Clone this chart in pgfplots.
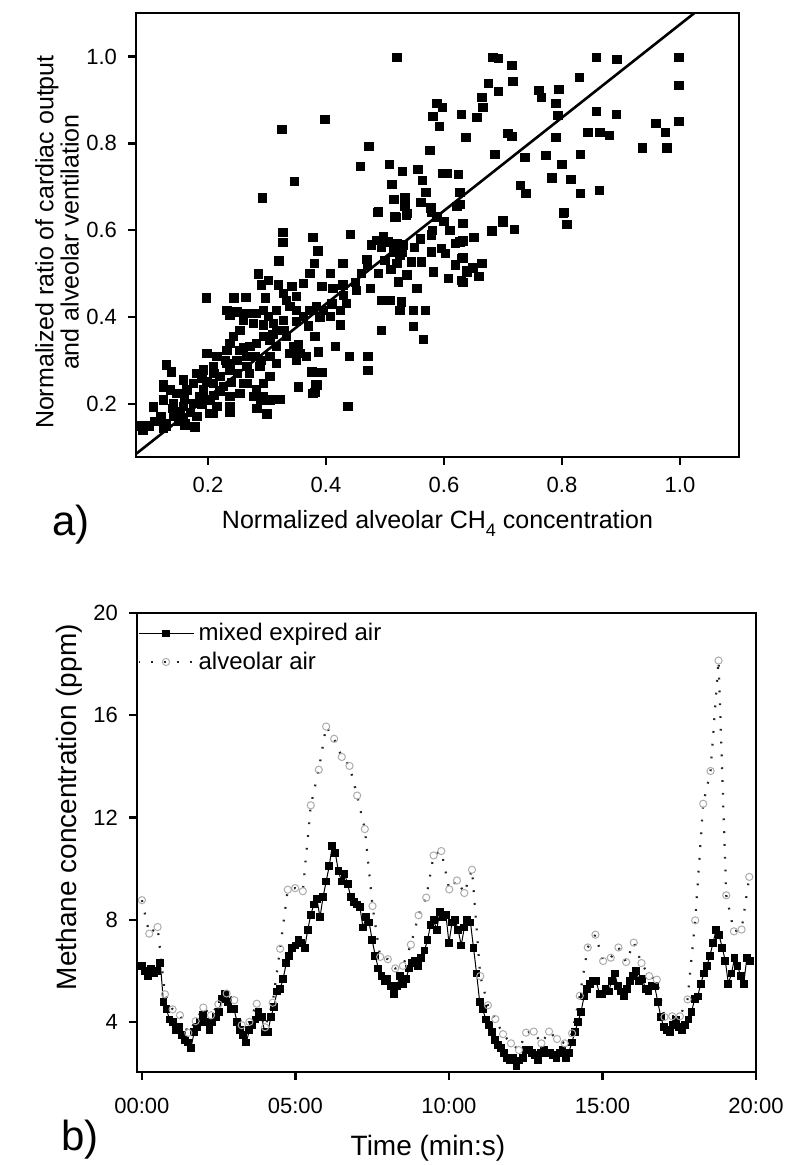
\documentclass[border=0pt]{standalone}
\usepackage{fontspec}
\setmainfont{Liberation Sans}
\usepackage{pgfplots}
\pgfplotsset{compat=1.18}
\begin{document}
\begin{tikzpicture}
\useasboundingbox (0,0) rectangle (400pt,582.5pt);
\pgfplotsset{
  panel/.style={
    scale only axis,
    axis line style={line width=1.2pt},
    tick align=outside,
    major tick length=4pt,
    tick style={line width=1.2pt,black},
    xtick pos=bottom, ytick pos=left,
    minor tick num=0,
    ticklabel style={font=\fontsize{11}{12}\selectfont},
    xticklabel style={yshift=-2.5pt},
    yticklabel style={xshift=-2pt},
  }
}
% ---------------- a) scatter ----------------
\begin{axis}[panel,
  at={(68pt,354pt)}, anchor=south west,
  width=301.5pt, height=222pt,
  xmin=0.078, xmax=1.1, ymin=0.078, ymax=1.1,
  xtick={0.2,0.4,0.6,0.8,1.0}, xticklabels={0.2,0.4,0.6,0.8,1.0},
  ytick={0.2,0.4,0.6,0.8,1.0}, yticklabels={0.2,0.4,0.6,0.8,1.0},
  xlabel={Normalized alveolar CH\raisebox{-0.55ex}{\fontsize{9}{9}\selectfont 4} concentration},
  ylabel={Normalized ratio of cardiac output\\and alveolar ventilation},
  every axis x label/.style={at={(axis description cs:0.5,-0.162)}, anchor=base,
    font=\fontsize{12.5}{14}\selectfont},
  every axis y label/.style={at={(axis description cs:-0.131,0.484)}, anchor=center,
    rotate=90, align=center, font=\fontsize{12.5}{10.5}\selectfont},
]
\addplot[only marks, mark=square*, mark size=2.1pt, black] coordinates {
(0.520,0.998)(0.398,0.855)(0.325,0.832)(0.346,0.713)(0.292,0.674)(0.473,0.793)
(0.458,0.747)(0.507,0.752)(0.530,0.736)(0.556,0.740)(0.563,0.715)(0.569,0.687)
(0.512,0.706)(0.515,0.671)(0.534,0.676)(0.534,0.655)(0.561,0.664)(0.488,0.641)
(0.519,0.630)(0.536,0.634)(0.578,0.651)(0.588,0.892)(0.597,0.883)(0.581,0.862)
(0.592,0.839)(0.629,0.867)(0.637,0.814)(0.576,0.784)(0.598,0.731)(0.605,0.731)
(0.624,0.729)(0.627,0.687)(0.622,0.655)(0.683,0.998)(0.692,0.995)(0.715,0.979)
(0.675,0.938)(0.692,0.920)(0.717,0.943)(0.664,0.906)(0.666,0.883)(0.656,0.860)
(0.761,0.922)(0.765,0.906)(0.795,0.924)(0.790,0.892)(0.793,0.864)(0.829,0.952)
(0.858,0.998)(0.893,0.993)(0.998,0.998)(0.998,0.933)(0.998,0.851)(0.858,0.874)
(0.892,0.867)(0.959,0.846)(0.975,0.825)(0.936,0.789)(0.978,0.789)(0.844,0.825)
(0.864,0.825)(0.880,0.818)(0.708,0.823)(0.715,0.816)(0.790,0.814)(0.686,0.775)
(0.737,0.768)(0.773,0.772)(0.831,0.775)(0.800,0.752)(0.783,0.720)(0.815,0.717)
(0.730,0.703)(0.739,0.685)(0.831,0.685)(0.863,0.692)(0.803,0.641)(0.627,0.660)
(0.700,0.623)(0.632,0.616)(0.700,0.618)(0.681,0.598)(0.719,0.602)(0.651,0.584)
(0.632,0.575)(0.802,0.639)(0.808,0.614)(0.632,0.536)(0.664,0.524)(0.649,0.513)
(0.639,0.503)(0.659,0.494)(0.632,0.480)
(0.327,0.595)(0.327,0.572)(0.378,0.584)(0.386,0.552)(0.320,0.529)(0.380,0.524)
(0.441,0.591)(0.429,0.524)(0.285,0.499)(0.197,0.444)(0.244,0.444)(0.264,0.446)
(0.297,0.444)(0.469,0.533)(0.486,0.577)(0.497,0.585)(0.506,0.573)(0.520,0.569)
(0.531,0.566)(0.477,0.566)(0.494,0.562)(0.514,0.550)(0.525,0.543)(0.520,0.523)
(0.545,0.527)(0.562,0.527)(0.579,0.550)(0.596,0.558)(0.610,0.600)(0.633,0.615)
(0.627,0.573)(0.630,0.535)(0.619,0.520)(0.638,0.508)(0.582,0.504)(0.607,0.489)
(0.630,0.485)(0.537,0.497)(0.554,0.466)(0.523,0.481)(0.489,0.500)(0.475,0.466)
(0.494,0.439)(0.508,0.439)(0.528,0.435)(0.525,0.416)(0.548,0.416)(0.568,0.416)
(0.548,0.378)(0.565,0.349)(0.494,0.370)(0.471,0.309)(0.471,0.277)(0.440,0.310)
(0.416,0.332)(0.387,0.320)(0.381,0.356)(0.353,0.336)(0.353,0.240)(0.383,0.244)
(0.381,0.226)(0.437,0.194)(0.376,0.274)(0.393,0.273)(0.321,0.211)(0.299,0.177)
(0.283,0.190)(0.407,0.500)(0.429,0.474)(0.452,0.462)(0.412,0.466)(0.393,0.470)
(0.373,0.500)(0.362,0.477)(0.342,0.470)(0.319,0.474)(0.302,0.485)(0.291,0.474)
(0.435,0.431)(0.424,0.416)(0.407,0.401)(0.424,0.382)(0.396,0.416)(0.384,0.424)
(0.373,0.416)(0.362,0.401)(0.350,0.416)(0.339,0.424)(0.328,0.454)(0.333,0.439)
(0.350,0.447)(0.316,0.416)(0.302,0.401)(0.294,0.416)(0.282,0.408)(0.266,0.408)
(0.249,0.412)(0.232,0.416)(0.237,0.405)(0.260,0.393)(0.277,0.385)(0.294,0.382)
(0.311,0.385)(0.328,0.393)(0.316,0.370)(0.333,0.355)(0.345,0.332)(0.356,0.317)
(0.367,0.309)(0.350,0.301)(0.339,0.317)(0.316,0.332)(0.305,0.347)(0.294,0.355)
(0.282,0.339)(0.271,0.332)(0.254,0.370)(0.243,0.355)(0.237,0.339)(0.232,0.324)
(0.254,0.324)(0.266,0.309)(0.249,0.301)(0.232,0.293)(0.215,0.309)(0.198,0.317)
(0.209,0.286)(0.192,0.278)(0.181,0.271)(0.220,0.263)(0.237,0.278)(0.266,0.286)
(0.288,0.286)(0.305,0.309)(0.316,0.293)(0.305,0.263)(0.294,0.248)(0.282,0.232)
(0.266,0.248)(0.254,0.225)(0.237,0.217)(0.226,0.240)(0.209,0.248)(0.192,0.232)
(0.175,0.248)(0.158,0.255)(0.164,0.232)(0.147,0.225)(0.136,0.232)(0.124,0.244)
(0.130,0.290)(0.138,0.274)(0.107,0.194)(0.124,0.209)(0.141,0.202)(0.158,0.194)
(0.175,0.202)(0.186,0.217)(0.203,0.209)(0.215,0.194)(0.203,0.179)(0.181,0.171)
(0.158,0.163)(0.141,0.171)(0.130,0.156)(0.124,0.144)(0.153,0.182)(0.178,0.148)
(0.161,0.152)(0.198,0.251)(0.090,0.148)(0.237,0.194)(0.260,0.248)(0.277,0.217)
(0.294,0.217)(0.305,0.209)
(0.489,0.642)(0.517,0.631)(0.537,0.638)(0.579,0.642)(0.588,0.631)(0.579,0.589)
(0.619,0.569)(0.602,0.546)
(0.085,0.150)(0.090,0.140)(0.124,0.239)(0.107,0.193)(0.127,0.152)(0.130,0.150)
(0.178,0.147)(0.161,0.156)(0.209,0.179)(0.237,0.182)(0.283,0.190)(0.300,0.177)
(0.322,0.211)(0.353,0.239)(0.385,0.244)(0.378,0.225)(0.437,0.195)(0.290,0.209)
(0.19,0.26)(0.21,0.27)(0.22,0.23)(0.24,0.25)(0.25,0.27)(0.27,0.27)(0.23,0.30)
(0.26,0.33)(0.28,0.31)(0.29,0.30)(0.31,0.36)(0.33,0.37)(0.35,0.39)(0.37,0.38)
(0.39,0.40)(0.41,0.43)(0.43,0.45)(0.45,0.48)(0.46,0.50)(0.47,0.52)(0.50,0.53)
(0.51,0.51)(0.53,0.55)(0.55,0.56)(0.56,0.58)(0.58,0.60)(0.60,0.62)(0.14,0.19)
(0.16,0.21)(0.17,0.18)(0.19,0.20)(0.21,0.22)(0.12,0.17)(0.15,0.16)(0.11,0.16)
(0.10,0.15)
};
% linear fit
\addplot[black, line width=1.3pt] coordinates {(0.0,0.0014) (1.1,1.181)};
\end{axis}
\node[font=\fontsize{21}{23}\selectfont] at (35.5pt,320pt) {a)};
% ---------------- b) time series ----------------
\begin{axis}[panel,
  at={(68.5pt,46.5pt)}, anchor=south west,
  width=309.5pt, height=229.5pt,
  xmin=-0.16, xmax=20, ymin=2.05, ymax=20,
  xtick={0,5,10,15,20}, xticklabels={00:00,05:00,10:00,15:00,20:00},
  ytick={4,8,12,16,20}, yticklabels={4,8,12,16,20},
  xticklabel style={yshift=-3pt},
  xlabel={Time (min:s)},
  ylabel={Methane concentration (ppm)},
  every axis x label/.style={at={(axis description cs:0.47,-0.181)}, anchor=base,
    font=\fontsize{14}{16}\selectfont},
  every axis y label/.style={at={(axis description cs:-0.097,0.577)}, anchor=base,
    rotate=90, font=\fontsize{14}{16}\selectfont},
  legend style={at={(0,1)}, anchor=north west, draw=none, fill=none,
    inner xsep=0pt, inner ysep=3pt, row sep=0pt,
    font=\fontsize{12}{14.5}\selectfont},
  legend cell align=left,
  legend image code/.code={\draw[mark repeat=2,mark phase=2,#1]
    plot coordinates {(0pt,0pt)(13.75pt,0pt)(27.5pt,0pt)};},
]
\addplot[black, line width=0.5pt, mark=square*, mark size=1.7pt] coordinates {
(0.0,6.2)(0.1,6.0)(0.2,5.8)(0.3,6.1)(0.4,5.9)(0.5,6.0)(0.6,6.3)(0.7,4.8)(0.8,4.5)(0.9,4.1)
(1.0,4.0)(1.1,3.7)(1.2,3.8)(1.3,3.5)(1.4,3.3)(1.5,3.2)(1.6,3.0)(1.7,3.6)(1.8,3.8)(1.9,4.0)
(2.0,4.3)(2.1,4.0)(2.2,3.7)(2.3,4.0)(2.4,4.2)(2.5,4.4)(2.6,4.9)(2.7,5.1)(2.8,4.8)(2.9,4.5)
(3.0,4.5)(3.1,4.0)(3.2,3.7)(3.3,3.5)(3.4,3.2)(3.5,3.7)(3.6,3.9)(3.7,4.1)(3.8,4.4)(3.9,4.2)
(4.0,3.6)(4.1,3.6)(4.2,4.2)(4.3,4.6)(4.4,5.2)(4.5,5.3)(4.6,5.7)(4.7,6.3)(4.8,6.6)(4.9,6.9)
(5.0,7.0)(5.1,7.2)(5.2,7.1)(5.3,6.9)(5.4,7.6)(5.5,8.2)(5.6,8.6)(5.7,8.8)(5.8,8.1)(5.9,8.9)
(6.0,9.5)(6.1,10.1)(6.2,10.9)(6.3,10.6)(6.4,9.9)(6.5,9.5)(6.6,9.8)(6.7,9.4)(6.8,8.9)(6.9,8.7)
(7.0,8.6)(7.1,8.5)(7.2,7.7)(7.3,8.1)(7.4,7.9)(7.5,7.2)(7.6,6.6)(7.7,6.1)(7.8,5.8)(7.9,5.6)
(8.0,5.7)(8.1,5.4)(8.2,5.1)(8.3,5.4)(8.4,5.8)(8.5,5.5)(8.6,5.7)(8.7,6.1)(8.8,6.3)(8.9,6.4)
(9.0,6.2)(9.1,6.5)(9.2,6.8)(9.3,7.2)(9.4,7.8)(9.5,8.0)(9.6,7.6)(9.7,8.3)(9.8,8.1)(9.9,8.2)
(10.0,7.1)(10.1,7.9)(10.2,8.0)(10.3,7.6)(10.4,7.0)(10.5,7.7)(10.6,8.0)(10.7,7.9)(10.8,6.9)(10.9,5.9)
(11.0,4.8)(11.1,4.5)(11.2,4.1)(11.3,3.9)(11.4,3.6)(11.5,3.3)(11.6,3.1)(11.7,3.0)(11.8,2.8)(11.9,2.6)
(12.0,2.5)(12.1,2.6)(12.2,2.3)(12.3,2.5)(12.4,2.6)(12.5,2.9)(12.6,2.9)(12.7,2.8)(12.8,2.7)(12.9,2.5)
(13.0,2.8)(13.1,2.9)(13.2,2.8)(13.3,2.8)(13.4,2.7)(13.5,2.6)(13.6,2.8)(13.7,2.9)(13.8,2.6)(13.9,2.8)
(14.0,3.2)(14.1,3.6)(14.2,4.0)(14.3,4.4)(14.4,5.0)(14.5,5.3)(14.6,5.5)(14.7,5.6)(14.8,5.6)(14.9,5.1)
(15.0,5.1)(15.1,5.3)(15.2,5.2)(15.3,5.6)(15.4,5.9)(15.5,5.4)(15.6,5.2)(15.7,5.0)(15.8,5.3)(15.9,5.6)
(16.0,5.8)(16.1,6.0)(16.2,5.6)(16.3,5.7)(16.4,5.3)(16.5,5.2)(16.6,5.4)(16.7,5.4)(16.8,4.8)(16.9,4.2)
(17.0,3.8)(17.1,3.7)(17.2,3.6)(17.3,3.9)(17.4,4.1)(17.5,3.8)(17.6,3.7)(17.7,3.9)(17.8,4.1)(17.9,4.4)
(18.0,4.9)(18.1,5.0)(18.2,5.5)(18.3,5.9)(18.4,6.2)(18.5,6.6)(18.6,7.1)(18.7,7.6)(18.8,7.4)(18.9,6.9)
(19.0,6.4)(19.1,5.5)(19.2,5.9)(19.3,6.5)(19.4,6.2)(19.5,5.8)(19.6,5.5)(19.7,6.5)(19.8,6.4)
};
\addplot[black!85, line width=1.1pt, dash pattern=on 0.9pt off 5.5pt,
  mark=o, mark size=1.8pt, mark options={solid, gray!65, line width=0.5pt}] coordinates {
(0.0,8.77)(0.24,7.46)(0.51,7.72)(0.75,5.09)(1.0,4.5)(1.24,4.27)(1.51,3.58)(1.75,4.04)
(2.0,4.57)(2.25,4.27)(2.49,4.70)(2.76,5.12)(3.01,4.86)(3.25,3.88)(3.5,4.01)(3.74,4.72)
(4.01,3.80)(4.26,4.76)(4.5,6.87)(4.75,9.18)(4.99,9.24)(5.24,9.12)(5.5,12.48)(5.76,13.87)
(6.0,15.56)(6.26,15.08)(6.51,14.37)(6.76,14.02)(7.01,12.86)(7.26,11.55)(7.51,8.54)(7.76,6.55)
(8.01,6.46)(8.25,6.10)(8.5,6.20)(8.76,7.03)(9.01,8.18)(9.26,8.87)(9.5,10.52)(9.75,10.69)
(10.01,9.19)(10.26,9.54)(10.5,9.05)(10.75,9.96)(11.02,5.80)(11.27,4.66)(11.51,4.12)(11.76,3.53)
(12.02,3.17)(12.28,2.91)(12.51,3.59)(12.76,3.63)(13.01,3.17)(13.26,3.63)(13.52,3.34)(13.77,3.17)
(14.01,3.56)(14.26,5.03)(14.52,6.92)(14.77,7.42)(15.02,6.39)(15.27,6.52)(15.52,6.92)(15.77,6.35)
(16.02,7.11)(16.27,6.31)(16.52,5.80)(16.77,5.66)(17.02,4.20)(17.27,4.23)(17.52,4.23)(17.77,4.89)
(18.02,7.98)(18.28,12.54)(18.52,13.82)(18.78,18.14)(19.03,8.96)(19.28,7.55)(19.53,7.62)(19.78,9.68)
};
\legend{mixed expired air, alveolar air}
\end{axis}
\node[font=\fontsize{21}{23}\selectfont] at (40pt,12.5pt) {b)};
\end{tikzpicture}
\end{document}
